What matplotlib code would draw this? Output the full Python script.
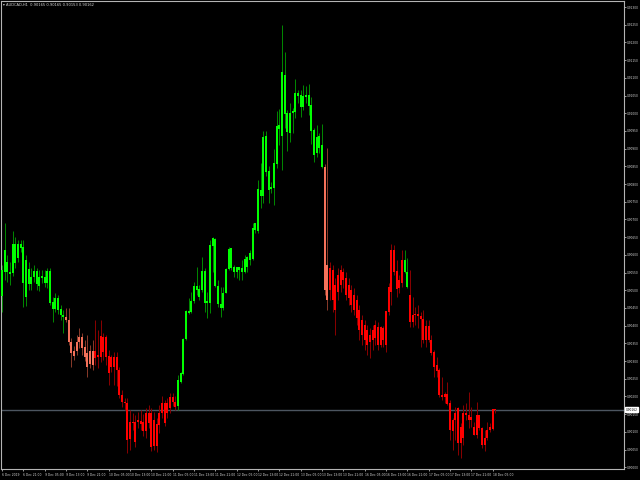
import numpy as np
import matplotlib
matplotlib.use("Agg")
import matplotlib.pyplot as plt
from matplotlib.transforms import ScaledTranslation, blended_transform_factory

SYMBOL = "AUDCAD,H1"

# AUDCAD H1, 6 Dec 2019 13:00 .. 18 Dec 2019
# prices in points (1 point = 0.00001)
opens = [
    90484, 90552, 90580, 90552, 90549, 90631, 90591, 90631, 90622, 90481,
    90560, 90518, 90538, 90554, 90512, 90535, 90538, 90521, 90554, 90467,
    90447, 90478, 90447, 90430, 90424, 90416, 90354, 90328, 90328, 90354,
    90368, 90340, 90323, 90292, 90328, 90309, 90317, 90312, 90368, 90312,
    90314, 90283, 90312, 90312, 90275, 90204, 90184, 90182, 90080, 90128,
    90128, 90128, 90131, 90128, 90102, 90153, 90153, 90060, 90122, 90119,
    90153, 90181, 90153, 90167, 90198, 90184, 90173, 90241, 90263, 90362,
    90441, 90439, 90470, 90512, 90504, 90501, 90554, 90464, 90464, 90625,
    90645, 90512, 90461, 90450, 90492, 90560, 90619, 90566, 90552, 90566,
    90552, 90552, 90594, 90586, 90588, 90670, 90667, 90783, 90766, 90936,
    90837, 90786, 90789, 90857, 90956, 90936, 91108, 91001, 90944, 91001,
    91004, 91057, 91052, 91018, 91046, 91052, 91023, 90953, 90888, 90936,
    90910, 90848, 90472, 90501, 90557, 90444, 90495, 90557, 90529, 90535,
    90478, 90501, 90487, 90472, 90444, 90416, 90402, 90388, 90374, 90360,
    90365, 90396, 90396, 90360, 90345, 90439, 90495, 90614, 90554, 90506,
    90521, 90586, 90552, 90487, 90410, 90430, 90433, 90427, 90419, 90360,
    90399, 90360, 90326, 90289, 90275, 90204, 90198, 90207, 90181, 90102,
    90133, 90167, 90068, 90083, 90153, 90148, 90133, 90114, 90091, 90148,
    90111, 90063, 90083, 90105, 90108, 90165,
]
highs = [
    90571, 90690, 90600, 90580, 90667, 90651, 90642, 90642, 90642, 90600,
    90580, 90563, 90571, 90563, 90557, 90557, 90557, 90563, 90563, 90481,
    90492, 90487, 90458, 90444, 90450, 90450, 90365, 90343, 90374, 90393,
    90379, 90360, 90374, 90345, 90360, 90416, 90388, 90416, 90379, 90374,
    90331, 90317, 90326, 90326, 90283, 90218, 90196, 90196, 90162, 90153,
    90148, 90156, 90162, 90150, 90167, 90176, 90167, 90156, 90139, 90176,
    90201, 90190, 90196, 90210, 90210, 90201, 90261, 90269, 90365, 90444,
    90478, 90495, 90523, 90566, 90515, 90594, 90563, 90495, 90642, 90651,
    90648, 90529, 90509, 90509, 90563, 90622, 90619, 90571, 90566, 90566,
    90586, 90600, 90597, 90614, 90690, 90690, 90812, 90859, 90950, 90950,
    90851, 90806, 90899, 91006, 91012, 91249, 91173, 91009, 91029, 91015,
    91097, 91066, 91066, 91080, 91077, 91083, 91046, 90958, 90967, 90944,
    90970, 90857, 90902, 90580, 90571, 90535, 90563, 90571, 90563, 90552,
    90535, 90515, 90506, 90487, 90458, 90430, 90416, 90402, 90393, 90402,
    90416, 90410, 90399, 90399, 90441, 90521, 90631, 90628, 90586, 90543,
    90614, 90614, 90591, 90557, 90481, 90453, 90458, 90439, 90444, 90416,
    90416, 90374, 90331, 90311, 90280, 90255, 90213, 90241, 90190, 90139,
    90170, 90170, 90125, 90176, 90181, 90213, 90170, 90128, 90184, 90148,
    90114, 90105, 90128, 90125, 90165, 90165,
]
lows = [
    90439, 90529, 90523, 90515, 90540, 90563, 90580, 90608, 90453, 90456,
    90501, 90501, 90523, 90501, 90498, 90521, 90509, 90506, 90458, 90410,
    90439, 90433, 90416, 90379, 90410, 90345, 90283, 90303, 90317, 90337,
    90317, 90300, 90255, 90280, 90275, 90289, 90280, 90297, 90303, 90289,
    90232, 90269, 90232, 90230, 90196, 90170, 90162, 90040, 90049, 90105,
    90057, 90111, 90105, 90088, 90083, 90111, 90046, 90049, 90043, 90097,
    90139, 90117, 90139, 90153, 90173, 90162, 90162, 90238, 90261, 90360,
    90433, 90436, 90464, 90487, 90472, 90495, 90439, 90422, 90436, 90552,
    90509, 90453, 90424, 90444, 90492, 90557, 90557, 90538, 90535, 90529,
    90529, 90549, 90552, 90571, 90586, 90662, 90662, 90732, 90746, 90823,
    90746, 90775, 90741, 90845, 90910, 90840, 90958, 90893, 90919, 90944,
    90987, 91029, 90989, 91009, 91029, 90995, 90913, 90862, 90876, 90888,
    90845, 90487, 90444, 90472, 90439, 90374, 90472, 90495, 90506, 90472,
    90458, 90439, 90430, 90402, 90360, 90345, 90331, 90317, 90309, 90331,
    90345, 90331, 90340, 90340, 90326, 90430, 90458, 90543, 90481, 90492,
    90509, 90549, 90506, 90396, 90396, 90402, 90393, 90340, 90351, 90340,
    90354, 90317, 90255, 90255, 90198, 90190, 90181, 90176, 90077, 90049,
    90077, 90035, 90026, 90063, 90133, 90111, 90114, 90091, 90083, 90105,
    90054, 90046, 90077, 90100, 90105, 90153,
]
closes = [
    90557, 90614, 90552, 90546, 90631, 90577, 90631, 90619, 90521, 90586,
    90518, 90538, 90554, 90518, 90538, 90540, 90521, 90554, 90464, 90447,
    90478, 90444, 90430, 90424, 90416, 90354, 90323, 90314, 90354, 90368,
    90337, 90312, 90283, 90328, 90289, 90328, 90312, 90371, 90326, 90368,
    90266, 90312, 90283, 90275, 90204, 90184, 90181, 90077, 90128, 90125,
    90071, 90133, 90122, 90102, 90153, 90125, 90057, 90133, 90060, 90153,
    90181, 90125, 90181, 90198, 90184, 90170, 90246, 90266, 90362, 90441,
    90436, 90470, 90512, 90501, 90481, 90554, 90464, 90470, 90628, 90648,
    90512, 90461, 90450, 90492, 90560, 90617, 90563, 90552, 90566, 90557,
    90563, 90588, 90566, 90605, 90676, 90690, 90786, 90766, 90933, 90834,
    90783, 90792, 90859, 90964, 90967, 91117, 90998, 90947, 91001, 91006,
    91057, 91049, 91018, 91049, 91052, 91021, 90950, 90882, 90933, 90902,
    90848, 90501, 90571, 90563, 90472, 90515, 90543, 90515, 90552, 90487,
    90515, 90458, 90444, 90422, 90388, 90374, 90360, 90345, 90354, 90388,
    90402, 90345, 90345, 90393, 90441, 90509, 90614, 90552, 90504, 90529,
    90586, 90552, 90509, 90410, 90430, 90433, 90427, 90419, 90360, 90399,
    90360, 90323, 90283, 90272, 90204, 90198, 90207, 90179, 90105, 90133,
    90153, 90068, 90114, 90153, 90148, 90133, 90142, 90091, 90148, 90111,
    90063, 90083, 90105, 90114, 90165, 90162,
]

# trend colouring of the indicator: (state, number of bars)
trend_runs = [("up", 24), ("fade", 11), ("down", 31), ("up", 55),
              ("fade", 2), ("down", 28), ("up", 2), ("down", 33)]

time_labels = [
    "6 Dec 2019", "6 Dec 21:00", "9 Dec 05:00", "9 Dec 13:00", "9 Dec 21:00",
    "10 Dec 05:00", "10 Dec 13:00", "10 Dec 21:00", "11 Dec 05:00",
    "11 Dec 13:00", "11 Dec 21:00", "12 Dec 05:00", "12 Dec 13:00",
    "12 Dec 21:00", "13 Dec 05:00", "13 Dec 13:00", "13 Dec 21:00",
    "16 Dec 05:00", "16 Dec 13:00", "16 Dec 21:00", "17 Dec 05:00",
    "17 Dec 13:00", "17 Dec 21:00", "18 Dec 05:00",
]
LABEL_STEP = 8
price_ticks = np.arange(90000, 91301, 50) / 1e5

COLORS = {
    "up":   ("#00ff00", "#008a00"),
    "fade": ("#f4715a", "#8a3a2a"),
    "down": ("#ff0000", "#8b0000"),
}
TEXT = "#d8d8d8"
FRAME = "#b4b4b4"

o = np.array(opens) / 1e5
h = np.array(highs) / 1e5
l = np.array(lows) / 1e5
c = np.array(closes) / 1e5
x = np.arange(len(o))

states = []
for state, n in trend_runs:
    states += [state] * n
body_col = [COLORS[s][0] for s in states]
wick_col = [COLORS[s][1] for s in states]

fig = plt.figure(figsize=(6.4, 4.8), dpi=100, facecolor="black")
ax = fig.add_axes([1 / 640, 11 / 480, 623 / 640, 468 / 480], facecolor="black")

ax.vlines(x, l, h, colors=wick_col, linewidth=0.7, zorder=2)
bottom = np.minimum(o, c)
height = np.maximum(np.abs(c - o), 0.00002)
ax.bar(x, height, bottom=bottom, width=0.72, color=body_col,
       linewidth=0, zorder=3)

# bid line + price tag
last = c[-1]
ax.axhline(last, color="#4c5560", linewidth=1.0, zorder=1)
tr = blended_transform_factory(ax.transAxes, ax.transData)
ax.text(1.003, last, f"{last:.5f}", transform=tr, ha="left", va="center",
        fontsize=2.1, color="black", zorder=5, clip_on=False,
        bbox=dict(boxstyle="square,pad=0.2", fc="white", ec="white"))

# title line
ax.text(0.003, 0.995,
        f"\u25be {SYMBOL}  {o[-1]:.5f} {h[-1]:.5f} {l[-1]:.5f} {c[-1]:.5f}",
        transform=ax.transAxes, ha="left", va="top", fontsize=2.6, color=TEXT)

ax.set_xlim(-0.375, -0.375 + 623 / 2.667)
ax.set_ylim(0.89995, 0.91317)

ax.yaxis.tick_right()
ax.set_yticks(price_ticks)
ax.set_yticklabels([f"{p:.5f}" for p in price_ticks])
ax.set_xticks(x[::LABEL_STEP][:len(time_labels)])
ax.set_xticklabels(time_labels, ha="left")
off = ScaledTranslation(0.8 / 72, 0, fig.dpi_scale_trans)
for lab in ax.get_xticklabels():
    lab.set_transform(lab.get_transform() + off)

ax.tick_params(axis="both", colors=FRAME, labelcolor=TEXT,
               length=1.6, width=0.6, direction="out")
ax.tick_params(axis="x", labelsize=2.2, pad=1.6)
ax.tick_params(axis="y", labelsize=2.1, pad=0.5)

for sp in ax.spines.values():
    sp.set_color(FRAME)
    sp.set_linewidth(0.8)

fig.savefig("out.png", dpi=100, facecolor="black")
